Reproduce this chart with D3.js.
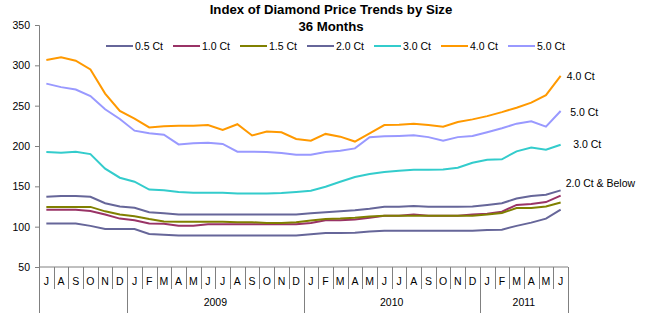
<!DOCTYPE html>
<html>
<head>
<meta charset="utf-8">
<script src="https://cdn.jsdelivr.net/npm/d3@7"></script>
<style>
  body { margin: 0; background: #fff; }
  svg text { font-family: Arial, "Liberation Sans", sans-serif; }
</style>
</head>
<body>
<svg id="chart"></svg>
<script>
const width = 647;
const height = 322;

// months Jul 2008 .. Jun 2011
const months = ["J","A","S","O","N","D","J","F","M","A","M","J","J","A","S","O","N","D",
                "J","F","M","A","M","J","J","A","S","O","N","D","J","F","M","A","M","J"];
const years = [
    {label: "", from: 0, to: 6},
    {label: "2009", from: 6, to: 18},
    {label: "2010", from: 18, to: 30},
    {label: "2011", from: 30, to: 36}
];

const ct05 = [104,104,104,101,97,97,97,91,90,89,89,89,89,89,89,89,89,89,
              90.5,92,92,92.6,94,95,95,95,95,95,95,95,96,96.3,101,105,110,121];
const ct10 = [121,121,121,119.5,115,110,108,104,103.5,101,101,103,103,103,103,103,103,103,
              104.5,108,108,109,111,113.6,113.6,115,113.6,113.6,113.6,115,116,118.6,127,128,130.5,138.5];
const ct15 = [124.5,124.5,124.5,124.5,119,115,113,109.5,106.5,106,106,106,106,105.5,105.5,104.5,104.5,105.5,
              107.5,109.5,110,111,112.5,113.6,113.6,113.6,113.6,113.6,113.6,113.6,115,117,123,123,125,130];
const ct20 = [137,138,138,137,129,125,123.5,118,116.6,115,115,115,115,115,115,115,115,115,
              116.6,118,119,120.3,122.3,124.8,124.8,125.6,124.8,124.8,124.8,125,127,129,135,138,139.6,145];
const ct30 = [192.6,191.5,193,190,172,160.7,155.7,146,145,143,142,142,142,141,141,141,141.7,143,
              144.6,149.5,155.7,161.6,165.3,167.8,169.4,170.6,170.6,171,173,179.3,183,183.5,193.4,198,195.4,201.6];
const ct40 = [306.6,310,305.8,295,265,243.4,234,223,224.4,225,225,226,220,227,213,218,217,208.7,
              206.6,215,211.6,205.5,215.7,226,226.4,227.7,226,224,229.8,233,237,242,247.5,253.7,263,286.8];
const ct50 = [277.3,273,270,262,245.5,233.5,219,215.7,214,202,203.3,204,202.5,193,193,192.6,191.3,189.2,
              189.2,192.6,194.2,197,210.8,212,212.4,213.2,211,206.6,211,212.4,217,222,227.7,230.6,224,243.4];

const seriesNames = ["0.5 Ct","1.0 Ct","1.5 Ct","2.0 Ct","3.0 Ct","4.0 Ct","5.0 Ct"];
const seriesValues = [ct05, ct10, ct15, ct20, ct30, ct40, ct50];
const seriesColors = ["#666699","#993366","#808000","#666699","#33CCCC","#FF9900","#9999FF"];

const endLabels = [
    {text: "4.0 Ct", series: 5, dx: 6, dy: 4},
    {text: "5.0 Ct", series: 6, dx: 9.5, dy: 5},
    {text: "3.0 Ct", series: 4, dx: 12.5, dy: 3.5},
    {text: "2.0 Ct & Below", series: 3, dx: 5, dy: -3.5}
];

const margin = {left: 39, right: 79, top: 25, bottom: 55};
const plotRight = width - margin.right;
const plotBottom = height - margin.bottom;

const svg = d3.select("#chart")
    .attr("width", width)
    .attr("height", height);

const x = d3.scaleBand()
    .domain(d3.range(months.length))
    .range([margin.left, plotRight])
    .padding(0);

const y = d3.scaleLinear()
    .domain([50, 350])
    .range([plotBottom, margin.top]);

// title
svg.append("text")
    .attr("x", 331).attr("y", 14)
    .attr("text-anchor", "middle")
    .attr("font-size", "13.2px")
    .attr("font-weight", "bold")
    .text("Index of Diamond Price Trends by Size");
svg.append("text")
    .attr("x", 331).attr("y", 31)
    .attr("text-anchor", "middle")
    .attr("font-size", "13.2px")
    .attr("font-weight", "bold")
    .text("36 Months");

// y axis
const yAxis = svg.append("g")
    .attr("transform", `translate(${margin.left},0)`)
    .call(d3.axisLeft(y).tickValues(d3.range(50, 351, 50)).tickSize(4).tickPadding(5));
yAxis.select(".domain").attr("stroke", "#808080");
yAxis.selectAll(".tick line").attr("stroke", "#808080");
yAxis.selectAll(".tick text")
    .attr("font-size", "10.5px")
    .attr("font-family", "Arial, 'Liberation Sans', sans-serif")
    .attr("fill", "#000");

// x axis: baseline, month dividers, year dividers
const axisG = svg.append("g");
axisG.append("line")
    .attr("x1", margin.left).attr("x2", plotRight)
    .attr("y1", plotBottom).attr("y2", plotBottom)
    .attr("stroke", "#808080");

const boundaries = d3.range(months.length + 1);
const yearBounds = new Set([0, 6, 18, 30, 36]);
const bx = k => k < months.length ? x(k) : plotRight;

axisG.selectAll("line.div")
    .data(boundaries)
    .enter()
    .append("line")
    .attr("class", "div")
    .attr("x1", k => Math.round(bx(k)) + 0.5)
    .attr("x2", k => Math.round(bx(k)) + 0.5)
    .attr("y1", plotBottom)
    .attr("y2", k => yearBounds.has(k) ? plotBottom + 46 : plotBottom + 22)
    .attr("stroke", "#808080");

axisG.selectAll("text.month")
    .data(months)
    .enter()
    .append("text")
    .attr("class", "month")
    .attr("x", (d, i) => x(i) + x.bandwidth() / 2)
    .attr("y", plotBottom + 18)
    .attr("text-anchor", "middle")
    .attr("font-size", "10.5px")
    .text(d => d);

axisG.selectAll("text.year")
    .data(years)
    .enter()
    .append("text")
    .attr("class", "year")
    .attr("x", d => (bx(d.from) + bx(d.to)) / 2)
    .attr("y", plotBottom + 39)
    .attr("text-anchor", "middle")
    .attr("font-size", "10.5px")
    .text(d => d.label);

// lines
const line = d3.line()
    .x((d, i) => x(i) + x.bandwidth() / 2)
    .y(d => y(d));

svg.append("g")
    .selectAll("path")
    .data(seriesValues)
    .enter()
    .append("path")
    .attr("fill", "none")
    .attr("stroke", (d, i) => seriesColors[i])
    .attr("stroke-width", 2)
    .attr("d", line);

// legend
const legend = svg.append("g")
    .selectAll("g")
    .data(seriesNames)
    .enter()
    .append("g")
    .attr("transform", (d, i) => `translate(${106 + i * 67},46)`);
legend.append("line")
    .attr("x1", 0).attr("x2", 27)
    .attr("stroke", (d, i) => seriesColors[i])
    .attr("stroke-width", 2);
legend.append("text")
    .attr("x", 29).attr("y", 4)
    .attr("font-size", "10.5px")
    .text(d => d);

// end labels
const last = months.length - 1;
svg.append("g")
    .selectAll("text")
    .data(endLabels)
    .enter()
    .append("text")
    .attr("x", d => x(last) + x.bandwidth() / 2 + d.dx)
    .attr("y", d => y(seriesValues[d.series][last]) + d.dy)
    .attr("font-size", "10.5px")
    .text(d => d.text);
</script>
</body>
</html>
